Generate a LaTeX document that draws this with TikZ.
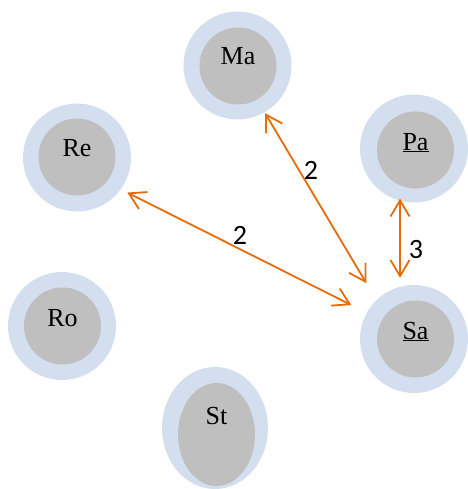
\documentclass[tikz,border=0pt]{standalone}
\usepackage{fontspec}
\setmainfont{Liberation Serif}
\newfontfamily\labfont{Carlito}
\usetikzlibrary{arrows.meta,shapes.geometric}
\definecolor{ringblue}{RGB}{211,223,238}
\definecolor{coregray}{RGB}{191,191,191}
\definecolor{linkorange}{RGB}{228,108,10}
\begin{document}
\begin{tikzpicture}[x=1pt,y=-1pt,
  >={Straight Barb[length=16pt,width=19pt]},
  ringbox/.style={circle,fill=ringblue,minimum size=108pt,inner sep=0pt,outer sep=0pt},
  corebox/.style={circle,fill=coregray,minimum size=77pt,inner sep=0pt,outer sep=0pt},
  ringell/.style={ellipse,fill=ringblue,minimum width=106pt,minimum height=122pt,inner sep=0pt,outer sep=0pt},
  coreell/.style={ellipse,fill=coregray,minimum width=77pt,minimum height=103pt,inner sep=0pt,outer sep=0pt},
  nametext/.style={anchor=base,inner sep=0pt,font=\fontsize{26}{31}\selectfont},
  weighttext/.style={inner sep=0pt,font=\labfont\fontsize{28}{34}\selectfont},
  linkline/.style={draw=linkorange,line width=1.8pt,<->}]
\useasboundingbox (0,0) rectangle (467,489);
% rings
\node[ringbox] (Ma) at (237.5,65.5) {};
\node[ringbox] (Pa) at (414,148.5) {};
\node[ringbox] (Re) at (77,157.5) {};
\node[ringbox] (Ro) at (62,326) {};
\node[ringbox] (Sa) at (414,339) {};
\node[ringell] (St) at (215,428) {};
% cores
\node[corebox] (MaC) at (238,66) {};
\node[corebox] (PaC) at (415.5,150) {};
\node[corebox] (ReC) at (77,157) {};
\node[corebox] (RoC) at (62.5,326) {};
\node[corebox] (SaC) at (415.5,339) {};
\node[coreell] (StC) at (216.5,434.5) {};
% names
\node[nametext] (MaT) at (238,65) {Ma};
\node[nametext] (PaT) at (415.5,150) {\underline{Pa}};
\node[nametext] (ReT) at (77,157) {Re};
\node[nametext] (RoT) at (62.5,326) {Ro};
\node[nametext] (SaT) at (415.5,339) {\underline{Sa}};
\node[nametext] (StT) at (216.5,424) {St};
% links
\draw[linkline,shorten <=1pt,shorten >=19.7pt] (Ma.-60) -- (Sa.134);
\draw[linkline,shorten <=7.4pt,shorten >=17.25pt] (Re.-36.6) -- (Sa.151.5);
\draw[linkline,shorten <=-2pt,shorten >=9pt] (Pa.-105.2) -- (Sa.105.3);
% weights
\node[weighttext] (w1) at (311,170) {2};
\node[weighttext] (w2) at (240,235) {2};
\node[weighttext] (w3) at (416,250) {3};
\end{tikzpicture}
\end{document}
